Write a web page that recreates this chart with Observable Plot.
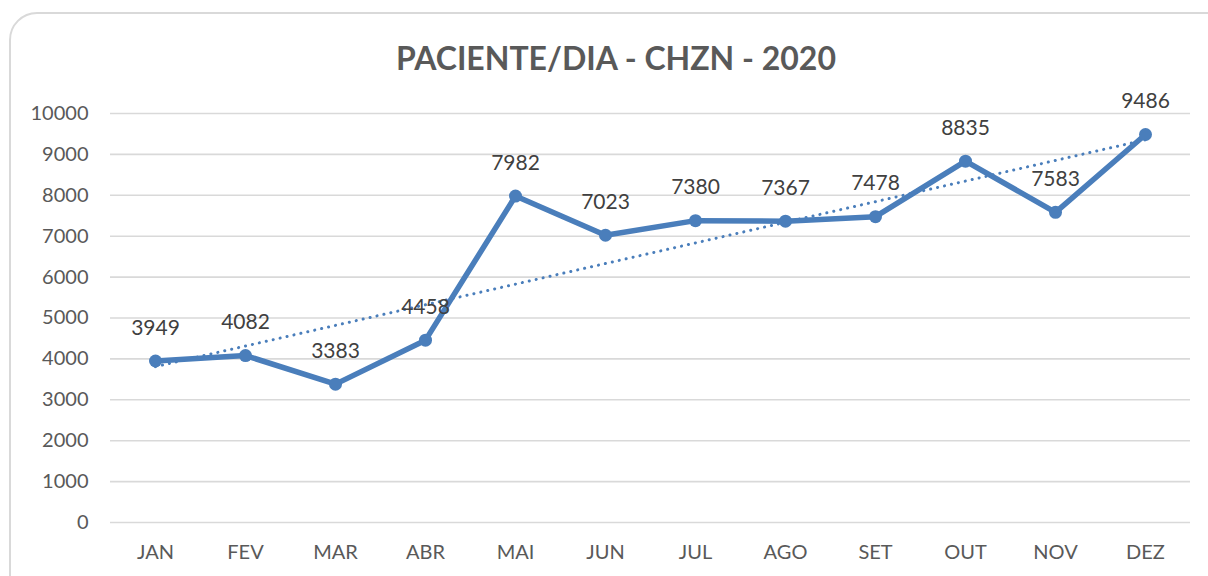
<!DOCTYPE html>
<html><head><meta charset="utf-8">
<script src="https://cdn.jsdelivr.net/npm/d3@7"></script>
<script src="https://cdn.jsdelivr.net/npm/@observablehq/plot@0.6"></script>
<style>
html,body{margin:0;padding:0;background:#fff;width:1208px;height:576px;overflow:hidden;font-family:Lato,Roboto,sans-serif;}
#card{position:absolute;left:9px;top:12px;width:1240px;height:620px;border:2px solid #d9d9d9;border-radius:28px;box-sizing:border-box;}
#title{position:absolute;left:0;top:38px;width:1232px;text-align:center;font-size:32px;font-weight:bold;color:#595959;line-height:40px;}
#chart{position:absolute;left:0;top:80px;}
</style></head>
<body>
<div id="card"></div>
<div id="title">PACIENTE/DIA - CHZN - 2020</div>
<div id="chart"></div>
<script>
const months = ["JAN","FEV","MAR","ABR","MAI","JUN","JUL","AGO","SET","OUT","NOV","DEZ"];
const values = [3949,4082,3383,4458,7982,7023,7380,7367,7478,8835,7583,9486];
const yTicks = [0,1000,2000,3000,4000,5000,6000,7000,8000,9000,10000];

const data = months.map((m,i)=>({i:i+1, month:m, value:values[i]}));
const blue = "#4a7ebb";

const chart = Plot.plot({
  width: 1208,
  height: 496,
  marginLeft: 110,
  marginRight: 18,
  marginTop: 33,
  marginBottom: 54,
  style: {fontFamily: "Lato, Roboto, sans-serif", fontSize: "20px", color: "#595959", background: "transparent", overflow: "visible"},
  x: {domain: [0.5, 12.5], ticks: d3.range(1,13), tickFormat: d => months[d-1], tickSize: 0, tickPadding: 22, label: null},
  y: {domain: [0, 10000], ticks: yTicks, tickFormat: d => String(d), tickSize: 0, tickPadding: 22, label: null},
  marks: [
    Plot.ruleY(yTicks, {stroke: "#d9d9d9", strokeWidth: 1.6}),
    Plot.linearRegressionY(data, {x: "i", y: "value", ci: 0, stroke: blue, strokeWidth: 3, strokeDasharray: "0.1 7", strokeLinecap: "round"}),
    Plot.line(data, {x: "i", y: "value", stroke: blue, strokeWidth: 5.5, strokeLinejoin: "round"}),
    Plot.dot(data, {x: "i", y: "value", r: 6.5, fill: blue}),
    Plot.text(data, {x: "i", y: "value", text: d => String(d.value), dy: -33, fill: "#404040", fontSize: 21})
  ]
});
document.getElementById("chart").appendChild(chart);
</script>
</body></html>
